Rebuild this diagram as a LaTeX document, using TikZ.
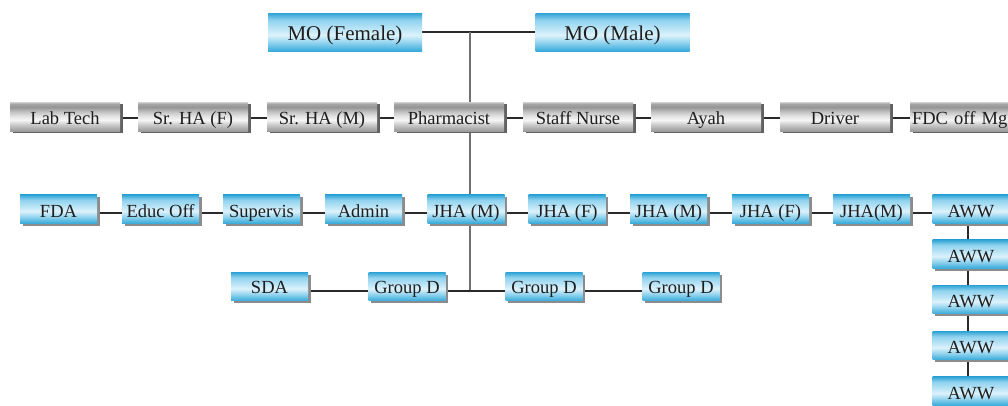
\documentclass[tikz,border=0pt]{standalone}
\usepackage{fontspec}
\setmainfont{Liberation Serif}
\usetikzlibrary{shadows,backgrounds}
\definecolor{bA}{HTML}{2FA3D5}
\definecolor{bB}{HTML}{8FD2EE}
\definecolor{bC}{HTML}{DCF2FB}
\definecolor{bD}{HTML}{B5E2F5}
\definecolor{bE}{HTML}{38ABDA}
\definecolor{gA}{HTML}{9C9C9C}
\definecolor{gB}{HTML}{ABABAB}
\definecolor{gC}{HTML}{CACACA}
\definecolor{gD}{HTML}{F6F6F6}
\definecolor{gE}{HTML}{E6E6E6}
\definecolor{gS}{HTML}{C4C4C4}
\definecolor{gF}{HTML}{959595}
\definecolor{gG}{HTML}{A6A6A6}
\definecolor{gH}{HTML}{D2D2D2}
\definecolor{txt}{HTML}{1E1E1E}
\definecolor{linec}{HTML}{2A2A2A}
\definecolor{trunkc}{HTML}{707070}
\pgfdeclareverticalshading{bluebar}{100bp}{color(0bp)=(bE); color(25bp)=(bE); color(36bp)=(bB); color(46bp)=(bC); color(56bp)=(bD); color(66bp)=(bB); color(75bp)=(bA); color(100bp)=(bA)}
\pgfdeclareverticalshading{metal}{100bp}{color(0bp)=(gA); color(25bp)=(gA); color(29bp)=(gB); color(36bp)=(gC); color(44bp)=(gD); color(50bp)=(gE); color(58bp)=(gS); color(66bp)=(gF); color(72bp)=(gG); color(75bp)=(gH); color(100bp)=(gH)}
\begin{document}
\begin{tikzpicture}[x=1pt,y=-1pt,
  bluebox/.style={shading=bluebar, minimum width=77pt, minimum height=28.5pt, inner sep=1pt, text=txt, font=\fontsize{18.5}{20}\selectfont, text height=17pt, text depth=1pt},
  bshadow/.style={drop shadow={shadow xshift=2.5pt, shadow yshift=-2.5pt, fill=black!45, opacity=1}},
  lowrow/.style={text height=16pt, text depth=2pt},
  metalbox/.style={shading=metal, minimum width=110pt, minimum height=29pt, inner sep=1pt, text=txt, font=\fontsize{18.5}{20}\selectfont, text height=16.5pt, text depth=1.5pt, drop shadow={shadow xshift=3pt, shadow yshift=-2pt, fill=black!62, opacity=1}},
  mobox/.style={bluebox, minimum width=154pt, minimum height=38pt, font=\fontsize{21}{23}\selectfont, text height=18pt, text depth=2pt},
  conn/.style={draw=linec, line width=1.1pt},
  trunk/.style={draw=trunkc, line width=1.8pt}]
\useasboundingbox (0,0) rectangle (1008,405);
\clip (0,0) rectangle (1008,405);
% top
\node[mobox] (mof) at (345,32) {MO (Female)};
\node[mobox] (mom) at (612.5,32) {MO (Male)};
% row 2
\node[metalbox] (lab) at (65,116.5) {Lab Tech};
\node[metalbox] (srf) at (193,116.5) {Sr. HA (F)};
\node[metalbox] (srm) at (322,116.5) {Sr. HA (M)};
\node[metalbox] (pha) at (449,116.5) {Pharmacist};
\node[metalbox] (stn) at (578,116.5) {Staff Nurse};
\node[metalbox] (aya) at (706,116.5) {Ayah};
\node[metalbox] (drv) at (835,116.5) {Driver};
\node[metalbox, text width=106pt, align=left] (fdc) at (965,116.5) {FDC off Mg};
% row 3
\node[bluebox,bshadow] (fda) at (58.5,209) {FDA};
\node[bluebox,bshadow] (edu) at (160.5,209) {Educ Off};
\node[bluebox,bshadow] (sup) at (261.5,209) {Supervis};
\node[bluebox,bshadow] (adm) at (363.5,209) {Admin};
\node[bluebox,bshadow] (jA) at (466,209) {JHA (M)};
\node[bluebox,bshadow] (jB) at (567,209) {JHA (F)};
\node[bluebox,bshadow] (jC) at (668.5,209) {JHA (M)};
\node[bluebox,bshadow] (jD) at (770.5,209) {JHA (F)};
\node[bluebox,bshadow] (jE) at (871.5,209) {JHA(M)};
\node[bluebox,bshadow] (aw0) at (971,209) {AWW};
% AWW column
\node[bluebox,bshadow] (aw1) at (971,254) {AWW};
\node[bluebox,bshadow] (aw2) at (971,299.5) {AWW};
\node[bluebox,bshadow] (aw3) at (971,345.5) {AWW};
\node[bluebox,bshadow] (aw4) at (971,391) {AWW};
% row 4
\node[bluebox,bshadow,lowrow] (sda) at (269.5,286.5) {SDA};
\node[bluebox,bshadow,lowrow] (gd1) at (407,286.5) {Group D};
\node[bluebox,bshadow,lowrow] (gd2) at (544,286.5) {Group D};
\node[bluebox,bshadow,lowrow] (gd3) at (681,286.5) {Group D};
\coordinate (jt) at (470,32);
\coordinate (jb) at (470,291);
\begin{scope}[on background layer]
  \draw[conn] (mof.east) -- (mom.west);
  \draw[trunk] (jt) -- (jb);
  \foreach \a/\b in {lab/srf,srf/srm,srm/pha,pha/stn,stn/aya,aya/drv,drv/fdc}
    \draw[conn] ([yshift=-1.5pt]\a.east) -- ([yshift=-1.5pt]\b.west);
  \foreach \a/\b in {fda/edu,edu/sup,sup/adm,adm/jA,jA/jB,jB/jC,jC/jD,jD/jE,jE/aw0}
    \draw[conn] ([yshift=-4pt]\a.east) -- ([yshift=-4pt]\b.west);
  \foreach \a/\b in {sda/gd1,gd1/gd2,gd2/gd3}
    \draw[conn] ([yshift=-4.5pt]\a.east) -- ([yshift=-4.5pt]\b.west);
  \foreach \a/\b in {aw0/aw1,aw1/aw2,aw2/aw3,aw3/aw4}
    \draw[conn] ([xshift=-3pt]\a.south) -- ([xshift=-3pt]\b.north);
\end{scope}
\end{tikzpicture}
\end{document}
